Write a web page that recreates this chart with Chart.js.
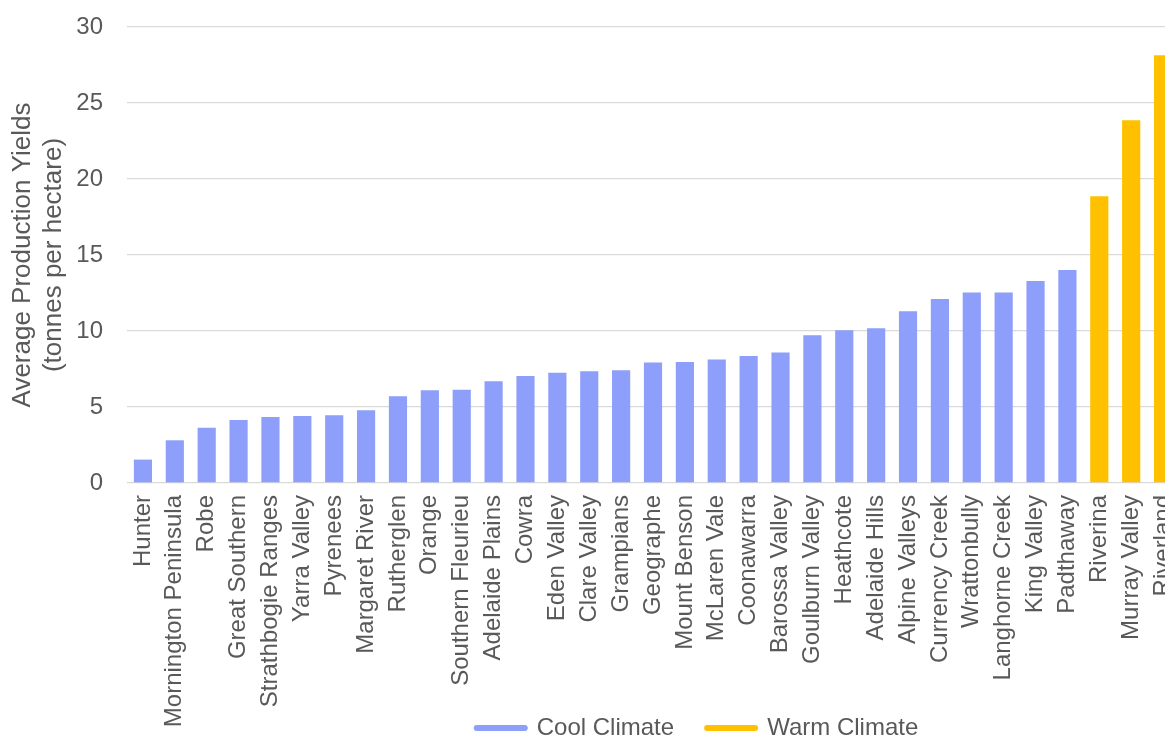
<!DOCTYPE html>
<html>
<head>
<meta charset="utf-8">
<script src="https://cdn.jsdelivr.net/npm/chart.js@4/dist/chart.umd.min.js"></script>
<style>
  html, body { margin: 0; padding: 0; background: #fff; overflow: hidden; }
  #wrap { width: 1179px; height: 738px; }
</style>
</head>
<body>
<div id="wrap"><canvas id="chart" width="1179" height="738"></canvas></div>
<script>
const regions = [
  "Hunter", "Mornington Peninsula", "Robe", "Great Southern", "Strathbogie Ranges",
  "Yarra Valley", "Pyrenees", "Margaret River", "Rutherglen", "Orange",
  "Southern Fleurieu", "Adelaide Plains", "Cowra", "Eden Valley", "Clare Valley",
  "Grampians", "Geographe", "Mount Benson", "McLaren Vale", "Coonawarra",
  "Barossa Valley", "Goulburn Valley", "Heathcote", "Adelaide Hills", "Alpine Valleys",
  "Currency Creek", "Wrattonbully", "Langhorne Creek", "King Valley", "Padthaway",
  "Riverina", "Murray Valley", "Riverland"
];

const coolYields = [
  1.54, 2.81, 3.64, 4.14, 4.34, 4.41, 4.45, 4.78, 5.70, 6.10,
  6.14, 6.69, 7.04, 7.26, 7.35, 7.41, 7.92, 7.96, 8.12, 8.36,
  8.58, 9.72, 10.05, 10.18, 11.30, 12.11, 12.53, 12.53, 13.29, 14.01,
  null, null, null
];

const warmYields = [
  null, null, null, null, null, null, null, null, null, null,
  null, null, null, null, null, null, null, null, null, null,
  null, null, null, null, null, null, null, null, null, null,
  18.86, 23.86, 28.14
];

const yTitle = ["Average Production Yields", "(tonnes per hectare)"];

const textColor = "#595959";
const fontFamily = "'Liberation Sans', Arial, sans-serif";

// move legend to where the original sits, and let the rotated labels run past the axis box
const layoutTweaks = {
  id: "layoutTweaks",
  afterLayout(chart) {
    const lg = chart.legend;
    lg.left += 108;
    lg.right += 108;
    lg.top += 12;
    lg.bottom += 12;
    chart.scales.x.bottom = chart.height;
  }
};

const ctx = document.getElementById("chart").getContext("2d");

new Chart(ctx, {
  type: "bar",
  data: {
    labels: regions,
    datasets: [
      {
        label: "Cool Climate",
        data: coolYields,
        backgroundColor: "#8E9EFB",
        borderWidth: 0,
        grouped: false,
        barPercentage: 0.57,
        categoryPercentage: 1
      },
      {
        label: "Warm Climate",
        data: warmYields,
        backgroundColor: "#FFC000",
        borderWidth: 0,
        grouped: false,
        barPercentage: 0.57,
        categoryPercentage: 1
      }
    ]
  },
  options: {
    responsive: false,
    animation: false,
    layout: { padding: 0 },
    plugins: {
      tooltip: { enabled: false },
      legend: {
        position: "bottom",
        labels: {
          color: textColor,
          font: { family: fontFamily, size: 24 },
          usePointStyle: true,
          pointStyleWidth: 48,
          padding: 33,
          generateLabels(chart) {
            return chart.data.datasets.map((ds, i) => ({
              text: ds.label,
              fillStyle: ds.backgroundColor,
              strokeStyle: ds.backgroundColor,
              fontColor: textColor,
              lineWidth: 6,
              lineCap: "round",
              pointStyle: "line",
              hidden: !chart.isDatasetVisible(i),
              datasetIndex: i
            }));
          }
        }
      }
    },
    scales: {
      x: {
        grid: { display: false, drawTicks: false },
        border: { display: false },
        ticks: {
          color: textColor,
          font: { family: fontFamily, size: 24 },
          minRotation: 90,
          maxRotation: 90,
          autoSkip: false,
          padding: 12
        },
        afterFit(scale) {
          scale.height = 188;
          scale.paddingLeft = 0;
          scale.paddingRight = 0;
        }
      },
      y: {
        min: 0,
        max: 30,
        ticks: {
          stepSize: 5,
          color: textColor,
          font: { family: fontFamily, size: 24 },
          padding: 24
        },
        grid: { color: "#D9D9D9", lineWidth: 1.3, drawTicks: false },
        border: { display: false },
        title: {
          display: true,
          text: yTitle,
          color: textColor,
          font: { family: fontFamily, size: 26, lineHeight: 1.2 },
          padding: { top: 7, bottom: 0 }
        },
        afterFit(scale) {
          scale.width = 127;
          scale.paddingTop = 27;
        }
      }
    }
  },
  plugins: [layoutTweaks]
});
</script>
</body>
</html>
